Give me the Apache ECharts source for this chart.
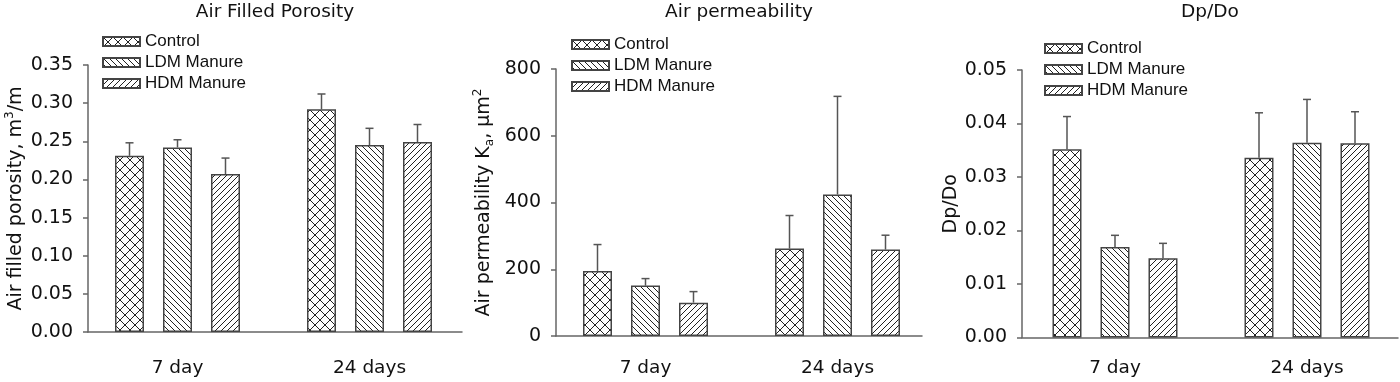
<!DOCTYPE html>
<html>
<head>
<meta charset="utf-8">
<script src="https://cdn.jsdelivr.net/npm/echarts@6/dist/echarts.min.js"></script>
<style>
  html, body { margin: 0; padding: 0; background: #fff; }
  #chart { width: 1400px; height: 382px; }
</style>
</head>
<body>
<div id="chart"></div>
<script>
// data
const categories = ['7 day', '24 days'];
const treatments = ['Control', 'LDM Manure', 'HDM Manure'];

// air filled porosity, m3/m
const afpControl = [0.231, 0.292];
const afpLdm = [0.242, 0.245];
const afpHdm = [0.207, 0.249];
const afpControlErr = [0.017, 0.020];
const afpLdmErr = [0.010, 0.022];
const afpHdmErr = [0.021, 0.023];

// air permeability, um2
const kaControl = [195, 262];
const kaLdm = [151, 424];
const kaHdm = [100, 259];
const kaControlErr = [79, 99];
const kaLdmErr = [21, 294];
const kaHdmErr = [33, 43];

// Dp/Do
const dpControl = [0.0352, 0.0336];
const dpLdm = [0.0169, 0.0364];
const dpHdm = [0.0148, 0.0363];
const dpControlErr = [0.0061, 0.0084];
const dpLdmErr = [0.0022, 0.0081];
const dpHdmErr = [0.0028, 0.0059];

const afpTicks = { min: 0, max: 0.35, interval: 0.05, digits: 2 };
const kaTicks = { min: 0, max: 800, interval: 200, digits: 0 };
const dpTicks = { min: 0, max: 0.05, interval: 0.01, digits: 2 };

const FONT = 'DejaVu Sans';
const LEGEND_FONT = 'Liberation Sans';
const PITCH = 48;          // px between neighbouring bars
const GROUP_X = [1, 5];    // slot of the middle bar of each group
const LABEL_TOP = 359;     // category labels sit on one line across panels

// hatch fills
function hatch(kind) {
  const s = kind === 'cross' ? 10 : 6;
  const c = document.createElement('canvas');
  c.width = s; c.height = s;
  const g = c.getContext('2d');
  g.fillStyle = '#fff';
  g.fillRect(0, 0, s, s);
  g.strokeStyle = '#222';
  g.lineWidth = 1;
  const down = () => { for (const d of [-s, 0, s]) { g.beginPath(); g.moveTo(d - 1, -1); g.lineTo(d + s + 1, s + 1); g.stroke(); } };
  const up = () => { for (const d of [-s, 0, s]) { g.beginPath(); g.moveTo(d - 1, s + 1); g.lineTo(d + s + 1, -1); g.stroke(); } };
  if (kind === 'cross') { down(); up(); }
  else if (kind === 'down') down();
  else up();
  return { image: c, repeat: 'repeat' };
}
const fills = [hatch('cross'), hatch('down'), hatch('up')];

const panels = [
  { title: 'Air Filled Porosity', name: '{a|Air filled porosity, m}{s|3}{a|/m}', gap: 60,
    left: 88, top: 65, width: 374, height: 267, offset: 89.5, legend: [102, 33],
    ticks: afpTicks, values: [afpControl, afpLdm, afpHdm], errs: [afpControlErr, afpLdmErr, afpHdmErr] },
  { title: 'Air permeability', name: '{a|Air permeability K}{b|a}{a|, \u03bcm}{s|2}', gap: 60,
    left: 556, top: 69, width: 366, height: 267, offset: 89.5, legend: [571, 36],
    ticks: kaTicks, values: [kaControl, kaLdm, kaHdm], errs: [kaControlErr, kaLdmErr, kaHdmErr] },
  { title: 'Dp/Do', name: '{a|Dp/Do}', gap: 59,
    left: 1022, top: 70, width: 376, height: 267.5, offset: 93, legend: [1044, 40],
    ticks: dpTicks, values: [dpControl, dpLdm, dpHdm], errs: [dpControlErr, dpLdmErr, dpHdmErr] }
];

const option = {
  animation: false,
  backgroundColor: '#fff',
  title: [], legend: [], grid: [], xAxis: [], yAxis: [], series: []
};

panels.forEach((p, i) => {
  const xMin = GROUP_X[0] - p.offset / PITCH;
  option.title.push({
    text: p.title, left: p.left + p.width / 2, top: 3, padding: 0, textAlign: 'center',
    textStyle: { fontFamily: FONT, fontSize: 18.5, fontWeight: 'normal', color: '#111' }
  });
  option.legend.push({
    data: treatments, orient: 'vertical', left: p.legend[0], top: p.legend[1], padding: 0,
    icon: 'rect', itemWidth: 37, itemHeight: 9, itemGap: 4, itemTextGap: 11, selectedMode: false,
    textStyle: { fontFamily: LEGEND_FONT, fontSize: 17, color: '#111', lineHeight: 15 }
  });
  option.grid.push({ left: p.left, top: p.top, width: p.width, height: p.height, outerBoundsMode: 'none' });
  option.xAxis.push({
    type: 'value', gridIndex: i, min: xMin, max: xMin + p.width / PITCH,
    splitLine: { show: false }, axisTick: { show: false },
    axisLine: { onZero: false, lineStyle: { color: '#666', width: 1.5 } },
    axisLabel: {
      customValues: GROUP_X, margin: LABEL_TOP - (p.top + p.height),
      formatter: v => categories[GROUP_X.indexOf(v)] || '',
      fontFamily: FONT, fontSize: 18.5, color: '#111'
    }
  });
  option.yAxis.push({
    type: 'value', gridIndex: i, min: p.ticks.min, max: p.ticks.max, interval: p.ticks.interval,
    splitLine: { show: false },
    axisLine: { show: true, onZero: false, lineStyle: { color: '#666', width: 1.5 } },
    axisTick: { show: true, length: 5, lineStyle: { color: '#666', width: 1.5 } },
    axisLabel: { margin: 15, fontFamily: FONT, fontSize: 19, color: '#111',
      formatter: v => v.toFixed(p.ticks.digits) },
    name: p.name, nameLocation: 'middle', nameGap: p.gap,
    nameTextStyle: {
      fontFamily: FONT, fontSize: 19, color: '#111',
      rich: {
        a: { fontFamily: FONT, fontSize: 19, lineHeight: 24, color: '#111' },
        s: { fontFamily: FONT, fontSize: 12, verticalAlign: 'top', color: '#111' },
        b: { fontFamily: FONT, fontSize: 12, verticalAlign: 'bottom', color: '#111' }
      }
    }
  });
  treatments.forEach((t, s) => {
    const xs = GROUP_X.map(g => g + s - 1);
    option.series.push({
      type: 'bar', name: t, xAxisIndex: i, yAxisIndex: i,
      barWidth: 29, barGap: '-100%',
      itemStyle: { color: fills[s], borderColor: '#444', borderWidth: 1.5 },
      data: xs.map((x, k) => [x, p.values[s][k]])
    });
    option.series.push({
      type: 'custom', name: t + ' error', xAxisIndex: i, yAxisIndex: i,
      encode: { x: 0, y: 1 },
      data: xs.map((x, k) => [x, p.values[s][k], p.errs[s][k]]),
      renderItem: (params, api) => {
        const x = api.value(0), v = api.value(1), e = api.value(2);
        const b = api.coord([x, v]);
        const top = api.coord([x, v + e]);
        const st = { stroke: '#555', lineWidth: 1.5 };
        return { type: 'group', children: [
          { type: 'line', shape: { x1: b[0], y1: b[1], x2: top[0], y2: top[1] }, style: st },
          { type: 'line', shape: { x1: top[0] - 4, y1: top[1], x2: top[0] + 4, y2: top[1] }, style: st }
        ] };
      }
    });
  });
});

const chart = echarts.init(document.getElementById('chart'), null, { renderer: 'canvas' });
chart.setOption(option);
</script>
</body>
</html>
